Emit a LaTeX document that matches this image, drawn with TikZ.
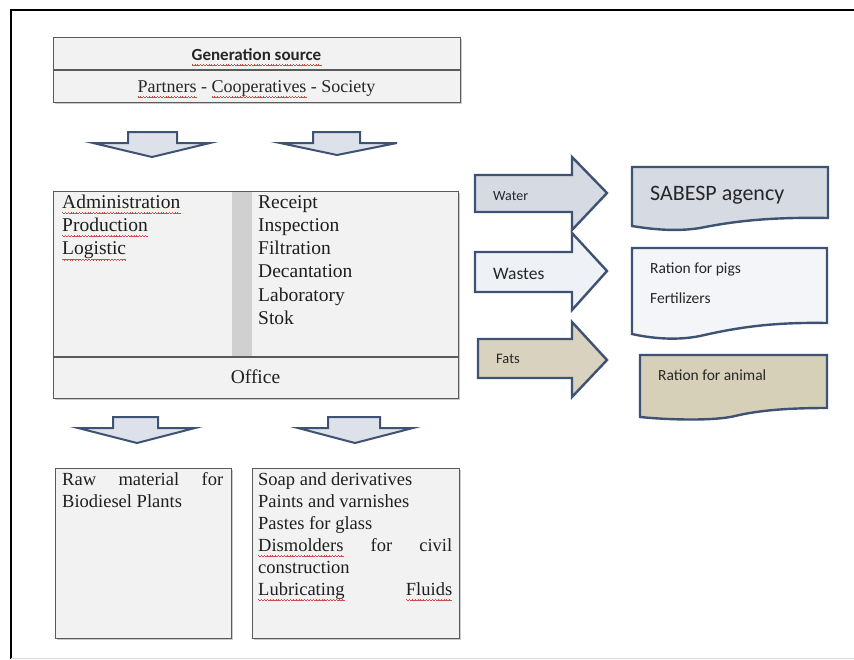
\documentclass[tikz,border=0pt]{standalone}
\usepackage{fontspec}
\setmainfont{Liberation Serif}
\newfontfamily\calibri{Carlito}
\usetikzlibrary{shadows}
\definecolor{spellred}{HTML}{D24A4A}
\definecolor{boxfill}{HTML}{F2F2F2}
\definecolor{boxline}{HTML}{5A5A5A}
\definecolor{band}{HTML}{D0D0D0}
\definecolor{arrline}{HTML}{3E5273}
\definecolor{arrfill}{HTML}{DDE2EA}
\definecolor{waterfill}{HTML}{D5DAE3}
\definecolor{wastefill}{HTML}{EEF1F6}
\definecolor{fatfill}{HTML}{D8D2BE}
\definecolor{pigfill}{HTML}{F3F5F9}
\definecolor{animalfill}{HTML}{D7D0B9}
\newcommand\wavepiece{\hbox{%
  \rule[-4.6pt]{0.7pt}{0.55pt}\rule[-5.1pt]{0.7pt}{0.55pt}\rule[-5.6pt]{0.7pt}{0.55pt}\rule[-5.1pt]{0.7pt}{0.55pt}}}
\newcommand\spell[1]{\leavevmode\setbox0=\hbox{#1}%
  \rlap{\hbox to \wd0{{\color{spellred}\xleaders\wavepiece\hfill}}}\box0\relax}
\begin{document}
\begin{tikzpicture}[x=1pt,y=-1pt,
  plainbox/.style={draw=boxline, fill=boxfill, line width=1.2pt, inner sep=0, anchor=north west,
     drop shadow={shadow xshift=1.5pt, shadow yshift=-1.5pt, fill=black!40, opacity=0.5}},
  darr/.style={fill=arrfill, draw=arrline, line width=2pt, line join=miter},
  rarr/.style={draw=arrline, line width=2.4pt, line join=miter},
  docbox/.style={draw=arrline, line width=2.4pt, line join=miter},
  mt/.style={font=\fontsize{19.5}{23}\selectfont, inner sep=0, text=black!88},
  bt/.style={font=\fontsize{18.5}{22}\selectfont, inner sep=0, text=black!88},
  st/.style={font=\calibri\fontsize{15.5}{18}\selectfont, inner sep=0, text=black!85}
]
\useasboundingbox (0,0) rectangle (854,659);
\fill[white] (0,0) rectangle (854,659);
% outer frame
\draw[black, line width=2.5pt] (11,659) -- (11,10) -- (854,10);
\draw[black!15, line width=1pt] (11,658) -- (854,658);

% generation source box
\node[plainbox, minimum width=407pt, minimum height=65pt] (gen) at (53,37) {};
\draw[boxline, line width=1.2pt] (53,70) -- (460,70);
\node[inner sep=0, font=\calibri\bfseries\fontsize{17}{20}\selectfont, text=black!85, anchor=base] (gent) at (256.5,60) {\spell{Generation source}};
\node[inner sep=0, font=\fontsize{18}{21}\selectfont, text=black!85, anchor=base] (part) at (256.5,92) {\spell{Partners} - \spell{Cooperatives} - Society};

% top down arrows
\draw[darr] (128,132) -- (177,132) -- (177,143) -- (210,143) -- (152,157) -- (93,143) -- (128,143) -- cycle;
\draw[darr] (313,132) -- (360,132) -- (360,143) -- (397,143) -- (337,155) -- (280,143) -- (313,143) -- cycle;

% main box
\node[plainbox, minimum width=405pt, minimum height=207pt] (main) at (53,191) {};
\fill[band] (232,191.6) rectangle (252,356.4);
\draw[boxline, line width=1.2pt] (53,357) -- (458,357);
\foreach \w [count=\i from 0] in {Administration,Production,Logistic}
  \node[mt, anchor=base west] (la\i) at (62,208+23.3*\i) {\spell{\w}};
\foreach \w [count=\i from 0] in {Receipt,Inspection,Filtration,Decantation,Laboratory,Stok}
  \node[mt, anchor=base west] (ra\i) at (258,208+23.3*\i) {\w};
\node[mt, anchor=base] (office) at (255.5,383) {Office};

% bottom down arrows
\draw[darr] (113,417) -- (158,417) -- (158,428) -- (195,428) -- (137,443) -- (78,428) -- (113,428) -- cycle;
\draw[darr] (328,417) -- (380,417) -- (380,428) -- (413,428) -- (355,443) -- (298,428) -- (328,428) -- cycle;

% bottom boxes
\node[plainbox, minimum width=176pt, minimum height=170pt] (raw) at (55,468) {};
\node[plainbox, minimum width=207pt, minimum height=170pt] (soap) at (252,468) {};
\node[bt, anchor=base west] (raw1) at (62,485) {\makebox[161pt][s]{Raw\hfill material\hfill for}};
\node[bt, anchor=base west] (raw2) at (62,507) {Biodiesel Plants};
\node[bt, anchor=base west] (s1) at (258,485) {Soap and derivatives};
\node[bt, anchor=base west] (s2) at (258,507) {Paints and varnishes};
\node[bt, anchor=base west] (s3) at (258,529) {Pastes for glass};
\node[bt, anchor=base west] (s4) at (258,551) {\makebox[194pt][s]{\spell{Dismolders}\hfill for\hfill civil}};
\node[bt, anchor=base west] (s5) at (258,573) {construction};
\node[bt, anchor=base west] (s6) at (258,595) {\makebox[194pt][s]{\spell{Lubricating}\hfill\spell{Fluids}}};

% right arrows
\draw[rarr, fill=waterfill] (475,175) -- (572,175) -- (572,157) -- (607,193) -- (572,230) -- (572,212) -- (475,212) -- cycle;
\draw[rarr, fill=wastefill] (475,252) -- (572,252) -- (572,233) -- (607,271) -- (572,310) -- (572,292) -- (475,292) -- cycle;
\draw[rarr, fill=fatfill] (478,339) -- (572,339) -- (572,322) -- (607,360) -- (572,397) -- (572,378) -- (478,378) -- cycle;
\node[st, font=\calibri\fontsize{14}{16}\selectfont, anchor=base west] (water) at (493,200) {Water};
\node[st, font=\calibri\fontsize{17.5}{20}\selectfont, anchor=base west] (wastes) at (493,279) {Wastes};
\node[st, font=\calibri\fontsize{14.5}{16}\selectfont, anchor=base west] (fats) at (496,363) {Fats};

% document boxes
\draw[docbox, fill=waterfill] (632,167) -- (828,167) -- (828,218)
  .. controls (770,217) and (735,221) .. (700,228)
  .. controls (675,232) and (650,229) .. (632,226) -- cycle;
\node[st, font=\calibri\fontsize{22}{26}\selectfont, anchor=base west] (sabesp) at (650,200) {SABESP agency};

\draw[docbox, fill=pigfill] (632,248) -- (827,248) -- (827,323)
  .. controls (770,322) and (735,328) .. (700,336)
  .. controls (675,341) and (650,338) .. (632,334) -- cycle;
\node[st, anchor=base west] (pigs) at (650,273) {Ration for pigs};
\node[st, anchor=base west] (fert) at (650,303) {Fertilizers};

\draw[docbox, fill=animalfill] (640,355) -- (827,355) -- (827,408)
  .. controls (790,408) and (760,410) .. (735,416)
  .. controls (715,421) and (670,420) .. (640,417) -- cycle;
\node[st, anchor=base west] (animal) at (658,380) {Ration for animal};
\end{tikzpicture}
\end{document}
